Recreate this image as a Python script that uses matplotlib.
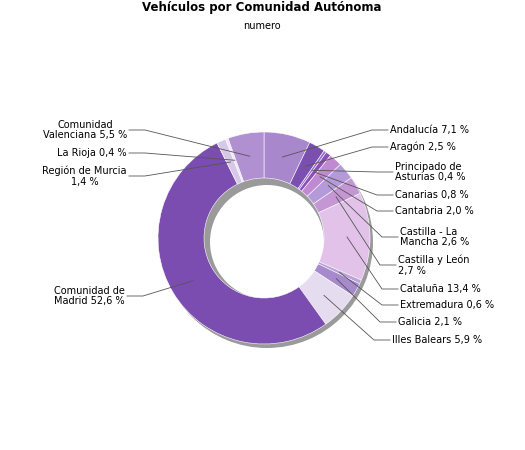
import matplotlib
matplotlib.use("Agg")
import matplotlib.pyplot as plt
import numpy as np

labels = ["Andalucía 7,1 %", "Aragón 2,5 %", "Principado de\nAsturias 0,4 %", "Canarias 0,8 %",
          "Cantabria 2,0 %", "Castilla - La\nMancha 2,6 %", "Castilla y León\n2,7 %", "Cataluña 13,4 %",
          "Extremadura 0,6 %", "Galicia 2,1 %", "Illes Balears 5,9 %", "Comunidad de\nMadrid 52,6 %",
          "Región de Murcia\n1,4 %", "La Rioja 0,4 %", "Comunidad\nValenciana 5,5 %"]
values = [7.1, 2.5, 0.4, 0.8, 2.0, 2.6, 2.7, 13.4, 0.6, 2.1, 5.9, 52.6, 1.4, 0.4, 5.5]
colors = ["#a987cc", "#7a4fb0", "#9b72c8", "#8a50b8", "#c08ad2", "#b49ad8", "#c497d4", "#e2c2e8",
          "#b8a2d8", "#a68acc", "#e6dcf0", "#7b4db0", "#d8c8e8", "#f0e8f8", "#b090d0"]
# label text anchor positions (pixels) and side
label_pos = [(390, 130), (390, 147), (395, 172), (395, 195), (395, 211), (400, 237), (398, 265),
             (400, 289), (400, 305), (398, 322), (392, 340), (125, 296), (127, 176), (127, 153), (127, 130)]
right = [True]*11 + [False]*4

fig = plt.figure(figsize=(5.25, 4.5), dpi=100)
ax = fig.add_axes([0, 0, 1, 1])

cx, cy, R, w = 264, 238, 106, 46
# shadow
ax.pie([1], colors=["#9a9a9a"], center=(cx+3, cy+4), radius=R, wedgeprops=dict(width=w+3), frame=False)
wedges, _ = ax.pie(values, colors=colors, startangle=-90, counterclock=True, center=(cx, cy), radius=R,
                   wedgeprops=dict(width=w, edgecolor="white", linewidth=0.4), frame=False)
ax.set_xlim(0, 525); ax.set_ylim(450, 0); ax.set_aspect("equal"); ax.axis("off")

for wd, lab, (tx, ty), r in zip(wedges, labels, label_pos, right):
    ang = np.deg2rad((wd.theta1 + wd.theta2) / 2)
    px = cx + (R - w/2) * np.cos(ang)
    py = cy + (R - w/2) * np.sin(ang)
    ex = tx - 18 if r else tx + 18
    ax.plot([px, ex, tx - 2 if r else tx + 2], [py, ty, ty], color="#555555", lw=0.6)
    ax.text(tx, ty, lab, ha="left" if r else "right", va="center", fontsize=7,
            multialignment="left" if r else "center", linespacing=1.1)

ax.text(262, 8, "Vehículos por Comunidad Autónoma", ha="center", va="center", fontsize=8.5, fontweight="bold")
ax.text(262, 26, "numero", ha="center", va="center", fontsize=7)
fig.savefig("out.png", dpi=100)
